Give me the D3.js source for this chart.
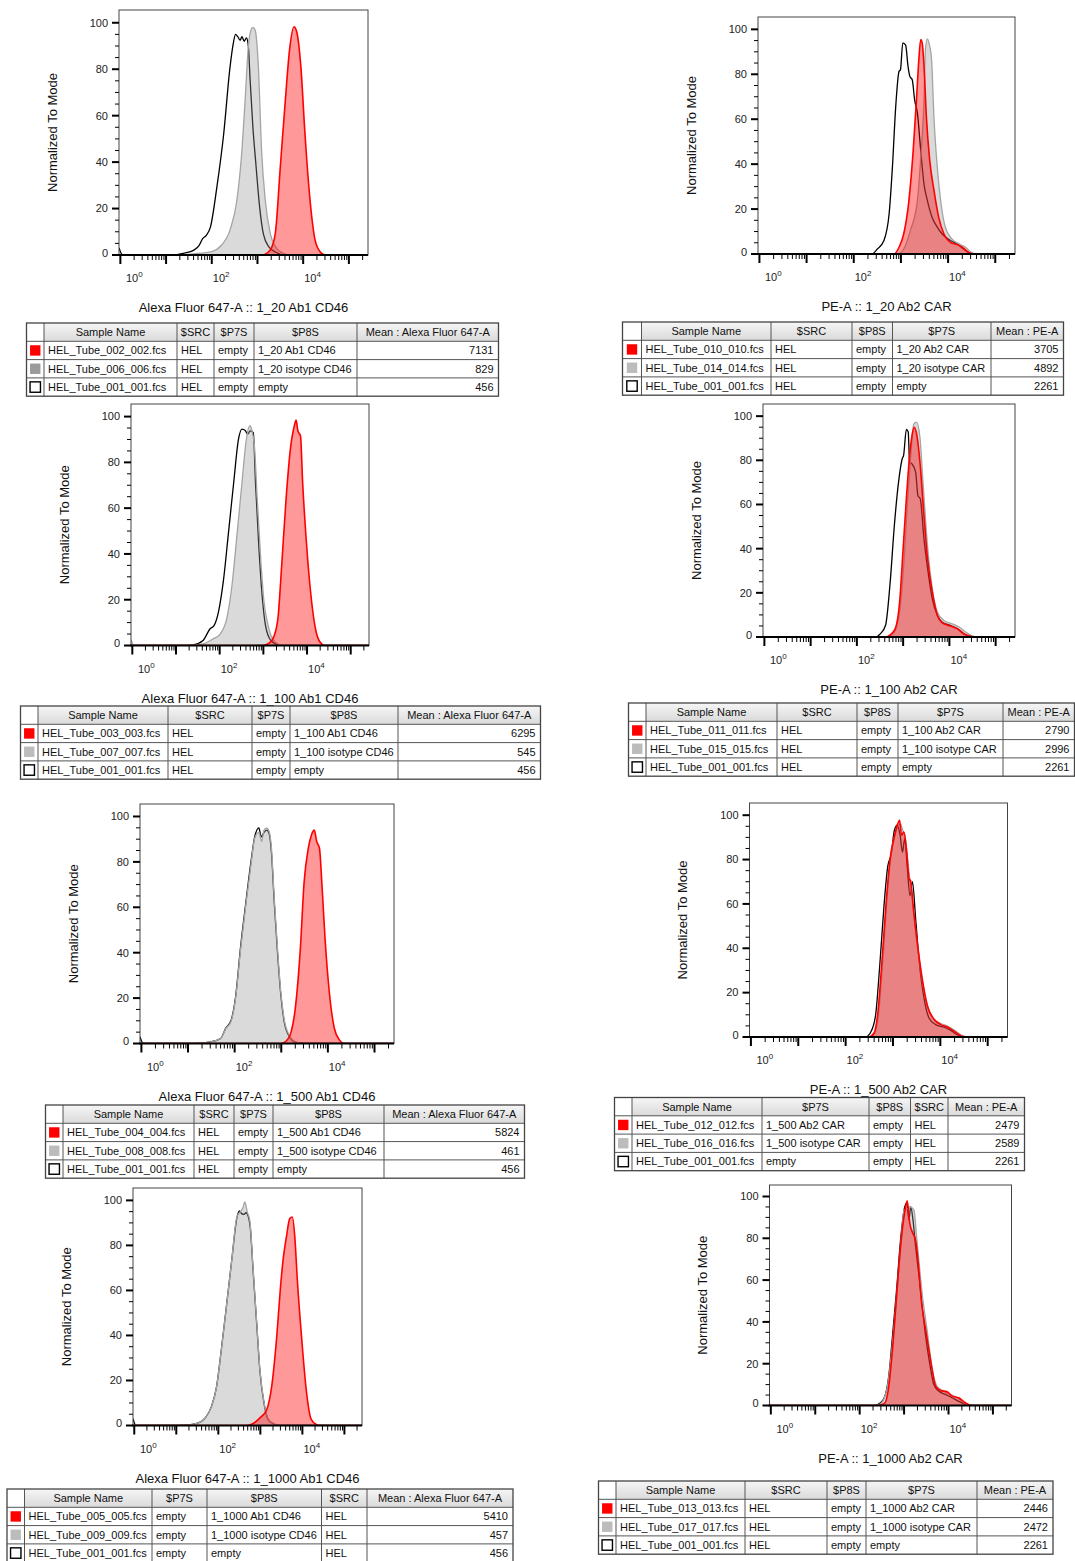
<!DOCTYPE html>
<meta charset="utf-8">
<style>
    body { margin: 0; background: #fff; }
    svg { display: block; font-family: "Liberation Sans", Arial, Helvetica, sans-serif; }
    .tickLabel { font-size: 11px; fill: #222; }
    .axisTitle { font-size: 13px; fill: #111; }
    .cell { font-size: 11px; fill: #111; }
</style>
<body>
<script src="https://cdn.jsdelivr.net/npm/d3@7"></script>
<script>
// histograms: [log10 intensity, % of mode]
var alexa20Red = [[-0.03,0],[3.1,0],[3.28,2.2],[3.39,9.3],[3.5,38],[3.61,66.7],[3.7,88],[3.8,98.3],[3.86,96],[3.95,81],[4.04,52],[4.15,23.7],[4.26,6.5],[4.37,1.4],[4.48,0],[5.42,0]];
var alexa20Grey = [[-0.03,0],[1.2,0],[1.6,0.5],[2.0,1.5],[2.2,4],[2.4,10.8],[2.55,23.7],[2.66,45],[2.73,66.7],[2.8,89.7],[2.86,97],[2.9,98],[2.95,96.8],[3.02,81],[3.09,45],[3.17,23.7],[3.28,9.3],[3.42,2.9],[3.57,0.7],[3.7,0],[5.42,0]];
var alexa20Black = [[-0.03,3],[0.05,0],[1.1,0],[1.4,0.8],[1.6,2],[1.72,4],[1.8,7],[1.88,8.5],[1.97,12],[2.11,29],[2.26,52],[2.4,81],[2.47,91],[2.52,95],[2.57,94],[2.62,92.5],[2.66,94],[2.71,92],[2.76,93.5],[2.8,90],[2.84,75],[2.9,55],[2.97,38],[3.04,22],[3.13,9],[3.25,3.5],[3.4,1.2],[3.6,0],[5.42,0]];

var pe20Red = [[-0.03,0],[2.85,0],[2.96,3],[3.06,9],[3.17,23.9],[3.26,46],[3.33,68.7],[3.38,86.6],[3.42,95.5],[3.45,94],[3.49,83.6],[3.54,61],[3.61,41.8],[3.7,28.4],[3.8,16.4],[3.91,9],[4.05,5.2],[4.19,4.2],[4.3,3],[4.44,0.7],[4.55,0],[5.42,0]];
var pe20Grey = [[-0.03,0],[2.92,0],[3.06,2.2],[3.2,10.4],[3.35,23.9],[3.43,46],[3.49,68.7],[3.52,91],[3.56,95.8],[3.61,92.5],[3.65,86.6],[3.7,61],[3.77,38.8],[3.85,22.4],[3.94,12],[4.08,6.7],[4.23,4.5],[4.37,3],[4.51,0.5],[4.6,0],[5.42,0]];
var pe20Black = [[-0.03,0],[2.38,0],[2.5,2.2],[2.64,6],[2.75,17.9],[2.82,38.8],[2.89,65.7],[2.96,81.3],[2.99,82],[3.04,94],[3.1,93],[3.15,83.6],[3.19,79],[3.24,77.6],[3.29,68.7],[3.35,62.7],[3.42,46],[3.49,31],[3.56,23.9],[3.66,16.4],[3.77,12],[3.87,9],[4.05,6],[4.19,4.5],[4.33,2.2],[4.47,0.3],[4.55,0],[5.42,0]];

var alexa100Red = [[-0.03,0],[2.98,0],[3.13,1],[3.25,4.4],[3.34,13],[3.42,35],[3.52,64],[3.62,86],[3.71,96],[3.75,98.5],[3.79,93.8],[3.85,91.6],[3.9,71],[3.98,46.5],[4.1,20],[4.21,5.8],[4.33,0.7],[4.4,0],[5.42,0]];
var alexa100Grey = [[-0.03,2.5],[0.04,0],[1.24,0],[1.62,0.7],[1.85,2.9],[2.01,5],[2.16,11.6],[2.28,26],[2.4,49],[2.51,71],[2.61,90],[2.69,96],[2.74,93.8],[2.8,86],[2.86,64],[2.94,37.8],[3.01,20],[3.11,8.7],[3.21,2.9],[3.36,0.4],[3.48,0],[5.42,0]];
var alexa100Black = [[-0.03,0],[1.16,0],[1.39,0.3],[1.62,2.2],[1.78,7.3],[1.87,8.7],[1.97,14.5],[2.09,29],[2.2,49],[2.32,71],[2.43,90],[2.51,94.5],[2.59,93.8],[2.64,92.3],[2.7,93.8],[2.77,93],[2.82,71],[2.9,42],[2.98,20],[3.05,8.7],[3.17,2.2],[3.32,0.3],[3.4,0],[5.42,0]];

var pe100Red = [[-0.03,0],[2.62,0],[2.72,1],[2.83,3.8],[2.93,17.3],[3.0,40],[3.07,62.6],[3.14,82.2],[3.19,91],[3.24,95],[3.3,91],[3.37,77.7],[3.45,55],[3.52,37],[3.63,20.4],[3.74,9.8],[3.84,6.5],[4.02,5],[4.17,3.8],[4.31,1.5],[4.46,0.3],[4.55,0],[5.42,0]];
var pe100Grey = [[-0.03,0],[2.65,0],[2.8,2],[2.94,14],[3.02,35],[3.09,60],[3.16,80.7],[3.23,96.5],[3.29,97.3],[3.36,91],[3.43,70],[3.52,43],[3.63,21.9],[3.74,11.3],[3.88,7.5],[4.06,6],[4.21,4.5],[4.35,2.3],[4.49,0.5],[4.57,0],[5.42,0]];
var pe100Black = [[-0.03,0],[2.4,0],[2.51,1.5],[2.62,5.3],[2.72,24.9],[2.81,50.5],[2.9,70],[2.98,80.7],[3.01,82.2],[3.07,94],[3.11,92.8],[3.14,79],[3.19,78.4],[3.27,74.7],[3.32,64],[3.37,62.6],[3.45,44.5],[3.52,32.4],[3.63,17.3],[3.74,9.8],[3.84,6.8],[4.02,5.3],[4.17,3.8],[4.31,1.5],[4.46,0.3],[4.53,0],[5.42,0]];

var alexa500Red = [[-0.03,0],[2.99,0],[3.1,1],[3.21,5],[3.31,17],[3.41,41.9],[3.49,71],[3.58,86],[3.65,92],[3.71,94],[3.76,89],[3.82,86],[3.87,71],[3.94,46],[4.03,22.8],[4.14,6.6],[4.25,1.5],[4.35,0],[5.42,0]];
var alexa500Grey = [[-0.03,0],[1.13,0],[1.48,0.7],[1.7,2.2],[1.81,6.6],[1.92,9.6],[2.02,19.9],[2.13,41.9],[2.24,61],[2.35,78.7],[2.43,90.4],[2.52,93],[2.58,89],[2.63,94],[2.69,94.9],[2.74,93.4],[2.79,86],[2.85,64],[2.92,41.9],[2.99,22.8],[3.06,11],[3.17,3.7],[3.31,0.7],[3.49,0],[5.42,0]];
var alexa500Black = [[-0.03,3],[0.04,0],[1.13,0],[1.48,0.7],[1.7,2.2],[1.81,6.8],[1.92,10],[2.02,20.5],[2.13,43],[2.24,62],[2.35,80],[2.43,91],[2.52,95],[2.57,91],[2.63,93],[2.69,94],[2.74,92.5],[2.79,84],[2.85,62],[2.92,40],[2.99,21.5],[3.06,10],[3.17,3.2],[3.31,0.5],[3.49,0],[5.42,0]];

var pe500Red = [[-0.03,0],[2.49,0],[2.6,1.8],[2.68,10.9],[2.77,35],[2.86,62],[2.95,82],[3.02,89.4],[3.09,95.5],[3.14,97.7],[3.18,91],[3.23,92.4],[3.29,83.4],[3.34,71.3],[3.37,70.5],[3.44,56],[3.53,39.6],[3.62,26],[3.73,13.9],[3.87,7.9],[4.01,5.6],[4.15,4.5],[4.29,2.6],[4.43,0.6],[4.54,0],[5.42,0]];
var pe500Grey = [[-0.03,0],[2.5,0],[2.61,1.5],[2.7,11],[2.79,36],[2.88,64],[2.97,84],[3.04,91],[3.1,95],[3.16,96],[3.21,93],[3.26,90],[3.31,80],[3.36,70],[3.42,60],[3.5,44],[3.6,28],[3.71,15],[3.85,8.5],[4.0,6.2],[4.14,5],[4.3,3],[4.45,0.8],[4.56,0],[5.42,0]];
var pe500Black = [[-0.03,0],[2.42,0],[2.52,1.8],[2.63,9.4],[2.72,32],[2.81,59],[2.89,77],[2.96,82],[3.03,93.2],[3.09,95.5],[3.15,91],[3.2,83.4],[3.25,89.4],[3.3,77],[3.36,63.7],[3.41,70],[3.48,53],[3.55,35],[3.66,17],[3.76,8.6],[3.9,5.6],[4.08,4.4],[4.22,3],[4.36,1],[4.5,0],[5.42,0]];

var alexa1000Red = [[-0.03,0],[2.67,0],[2.83,0.9],[2.99,3.4],[3.15,7],[3.27,17.4],[3.39,39.5],[3.48,61.7],[3.54,73.5],[3.62,83.8],[3.7,91.9],[3.76,92.6],[3.82,83.8],[3.88,64.6],[3.98,39.5],[4.1,14.5],[4.21,2.7],[4.34,0.3],[4.41,0],[5.42,0]];
var alexa1000Grey = [[-0.03,0],[0.85,0],[1.25,0.2],[1.49,0.9],[1.69,3.4],[1.84,8.6],[1.96,17.4],[2.08,35],[2.2,54],[2.32,73.5],[2.44,92.6],[2.52,94.8],[2.59,97],[2.63,99.3],[2.69,94.8],[2.75,91],[2.83,69],[2.91,47],[2.99,24.8],[3.09,10],[3.19,2.7],[3.31,0.9],[3.47,0],[5.42,0]];
var alexa1000Black = [[-0.03,3],[0.04,0],[0.85,0],[1.25,0.2],[1.49,0.9],[1.69,3.4],[1.84,8.6],[1.96,17.4],[2.08,35],[2.2,54],[2.32,73.5],[2.44,92],[2.5,95.3],[2.56,94],[2.61,93.8],[2.66,94.5],[2.71,93],[2.76,88],[2.83,68],[2.91,46],[2.99,24],[3.09,9.5],[3.19,2.5],[3.31,0.8],[3.47,0],[5.42,0]];

var pe1000Red = [[-0.03,0],[2.39,0],[2.55,0.8],[2.64,6.9],[2.73,24.6],[2.83,51.8],[2.92,75.9],[3.01,92],[3.07,98],[3.13,87],[3.2,82.3],[3.26,79],[3.32,68],[3.39,50],[3.49,35.8],[3.6,21.3],[3.71,9.3],[3.82,7.2],[3.97,6.6],[4.08,4.5],[4.23,3.7],[4.38,1.3],[4.53,0],[5.42,0]];
var pe1000Grey = [[-0.03,0],[2.35,0],[2.47,0.8],[2.62,8.5],[2.73,27.8],[2.85,56.7],[2.94,80.7],[3.0,93.6],[3.07,94],[3.13,95],[3.22,93.6],[3.29,79],[3.41,53],[3.52,35.8],[3.63,18],[3.74,9.3],[3.89,6.9],[4.05,5.3],[4.2,3.7],[4.35,1.3],[4.5,0],[5.42,0]];
var pe1000Black = [[-0.03,0],[2.32,0],[2.47,1.3],[2.58,5.3],[2.66,15],[2.73,31],[2.83,55],[2.92,79],[3.0,93.6],[3.06,96.8],[3.11,88.8],[3.15,95.2],[3.2,88.8],[3.26,76],[3.33,63],[3.41,47],[3.48,34],[3.58,19.7],[3.67,10],[3.78,6.9],[3.93,5.3],[4.08,3.7],[4.23,2],[4.38,0.5],[4.5,0],[5.42,0]];

// axis titles
var alexa20Title = "Alexa Fluor 647-A :: 1_20 Ab1 CD46";
var pe20Title = "PE-A :: 1_20 Ab2 CAR";
var alexa100Title = "Alexa Fluor 647-A :: 1_100 Ab1 CD46";
var pe100Title = "PE-A :: 1_100 Ab2 CAR";
var alexa500Title = "Alexa Fluor 647-A :: 1_500 Ab1 CD46";
var pe500Title = "PE-A :: 1_500 Ab2 CAR";
var alexa1000Title = "Alexa Fluor 647-A :: 1_1000 Ab1 CD46";
var pe1000Title = "PE-A :: 1_1000 Ab2 CAR";
var yTitle = "Normalized To Mode";
var xLabelExps = [0, 2, 4];
var yTickValues = [0, 20, 40, 60, 80, 100];

// legend tables
var swatchKinds = ["red", "grey", "none"];
var alexa20Cols = ["Sample Name", "$SRC", "$P7S", "$P8S", "Mean : Alexa Fluor 647-A"];
var alexa20Rows = [
    ["HEL_Tube_002_002.fcs", "HEL", "empty", "1_20 Ab1 CD46", "7131"],
    ["HEL_Tube_006_006.fcs", "HEL", "empty", "1_20 isotype CD46", "829"],
    ["HEL_Tube_001_001.fcs", "HEL", "empty", "empty", "456"]];
var pe20Cols = ["Sample Name", "$SRC", "$P8S", "$P7S", "Mean : PE-A"];
var pe20Rows = [
    ["HEL_Tube_010_010.fcs", "HEL", "empty", "1_20 Ab2 CAR", "3705"],
    ["HEL_Tube_014_014.fcs", "HEL", "empty", "1_20 isotype CAR", "4892"],
    ["HEL_Tube_001_001.fcs", "HEL", "empty", "empty", "2261"]];
var alexa100Cols = ["Sample Name", "$SRC", "$P7S", "$P8S", "Mean : Alexa Fluor 647-A"];
var alexa100Rows = [
    ["HEL_Tube_003_003.fcs", "HEL", "empty", "1_100 Ab1 CD46", "6295"],
    ["HEL_Tube_007_007.fcs", "HEL", "empty", "1_100 isotype CD46", "545"],
    ["HEL_Tube_001_001.fcs", "HEL", "empty", "empty", "456"]];
var pe100Cols = ["Sample Name", "$SRC", "$P8S", "$P7S", "Mean : PE-A"];
var pe100Rows = [
    ["HEL_Tube_011_011.fcs", "HEL", "empty", "1_100 Ab2 CAR", "2790"],
    ["HEL_Tube_015_015.fcs", "HEL", "empty", "1_100 isotype CAR", "2996"],
    ["HEL_Tube_001_001.fcs", "HEL", "empty", "empty", "2261"]];
var alexa500Cols = ["Sample Name", "$SRC", "$P7S", "$P8S", "Mean : Alexa Fluor 647-A"];
var alexa500Rows = [
    ["HEL_Tube_004_004.fcs", "HEL", "empty", "1_500 Ab1 CD46", "5824"],
    ["HEL_Tube_008_008.fcs", "HEL", "empty", "1_500 isotype CD46", "461"],
    ["HEL_Tube_001_001.fcs", "HEL", "empty", "empty", "456"]];
var pe500Cols = ["Sample Name", "$P7S", "$P8S", "$SRC", "Mean : PE-A"];
var pe500Rows = [
    ["HEL_Tube_012_012.fcs", "1_500 Ab2 CAR", "empty", "HEL", "2479"],
    ["HEL_Tube_016_016.fcs", "1_500 isotype CAR", "empty", "HEL", "2589"],
    ["HEL_Tube_001_001.fcs", "empty", "empty", "HEL", "2261"]];
var alexa1000Cols = ["Sample Name", "$P7S", "$P8S", "$SRC", "Mean : Alexa Fluor 647-A"];
var alexa1000Rows = [
    ["HEL_Tube_005_005.fcs", "empty", "1_1000 Ab1 CD46", "HEL", "5410"],
    ["HEL_Tube_009_009.fcs", "empty", "1_1000 isotype CD46", "HEL", "457"],
    ["HEL_Tube_001_001.fcs", "empty", "empty", "HEL", "456"]];
var pe1000Cols = ["Sample Name", "$SRC", "$P8S", "$P7S", "Mean : PE-A"];
var pe1000Rows = [
    ["HEL_Tube_013_013.fcs", "HEL", "empty", "1_1000 Ab2 CAR", "2446"],
    ["HEL_Tube_017_017.fcs", "HEL", "empty", "1_1000 isotype CAR", "2472"],
    ["HEL_Tube_001_001.fcs", "HEL", "empty", "empty", "2261"]];

// layout of each panel on the page
var panels = [
    {red: alexa20Red, grey: alexa20Grey, black: alexa20Black, title: alexa20Title, cols: alexa20Cols, rows: alexa20Rows,
     frame: {l: 119, r: 368, t: 10, b: 255}, tx: [26.5, 44, 177, 214, 254, 357, 498.5], ty: 323, greySwatch: "#9b9b9b"},
    {red: pe20Red, grey: pe20Grey, black: pe20Black, title: pe20Title, cols: pe20Cols, rows: pe20Rows,
     frame: {l: 758, r: 1015, t: 17, b: 254}, tx: [622.5, 641.5, 771, 852, 892.5, 991, 1063.5], ty: 322, greySwatch: "#bcbcbc"},
    {red: alexa100Red, grey: alexa100Grey, black: alexa100Black, title: alexa100Title, cols: alexa100Cols, rows: alexa100Rows,
     frame: {l: 131, r: 369, t: 404, b: 645.5}, tx: [20.5, 38, 168, 252, 290, 398, 540.5], ty: 706, greySwatch: "#bcbcbc"},
    {red: pe100Red, grey: pe100Grey, black: pe100Black, title: pe100Title, cols: pe100Cols, rows: pe100Rows,
     frame: {l: 763, r: 1015, t: 404, b: 637}, tx: [628.5, 646, 777, 857, 898, 1003, 1074.5], ty: 703, greySwatch: "#bcbcbc"},
    {red: alexa500Red, grey: alexa500Grey, black: alexa500Black, title: alexa500Title, cols: alexa500Cols, rows: alexa500Rows,
     frame: {l: 140, r: 394, t: 804, b: 1043.5}, tx: [45.5, 63, 194, 234, 273, 384, 524.5], ty: 1105, greySwatch: "#bcbcbc"},
    {red: pe500Red, grey: pe500Grey, black: pe500Black, title: pe500Title, cols: pe500Cols, rows: pe500Rows,
     frame: {l: 749.5, r: 1007.5, t: 803, b: 1037}, tx: [614.5, 632, 762, 869, 910.5, 948, 1024.5], ty: 1097.5, greySwatch: "#bcbcbc"},
    {red: alexa1000Red, grey: alexa1000Grey, black: alexa1000Black, title: alexa1000Title, cols: alexa1000Cols, rows: alexa1000Rows,
     frame: {l: 133, r: 362, t: 1188, b: 1425.5}, tx: [7, 24.5, 152, 207, 321.5, 367, 513], ty: 1489, greySwatch: "#bcbcbc"},
    {red: pe1000Red, grey: pe1000Grey, black: pe1000Black, title: pe1000Title, cols: pe1000Cols, rows: pe1000Rows,
     frame: {l: 769.5, r: 1011.5, t: 1185, b: 1405.5}, tx: [598.5, 616, 745, 827, 866, 977, 1053], ty: 1481, greySwatch: "#bcbcbc"}
];

var rowH = 18.3;

var svg = d3.select("body").append("svg")
    .attr("width", 1075)
    .attr("height", 1561);
var defs = svg.append("defs");
var grad = defs.append("linearGradient").attr("id", "hdr")
    .attr("x1", 0).attr("y1", 0).attr("x2", 0).attr("y2", 1);
grad.append("stop").attr("offset", "0%").attr("stop-color", "#f6f6f6");
grad.append("stop").attr("offset", "100%").attr("stop-color", "#dadada");

panels.forEach(function(p, i) {
    drawHistogram(p, i);
    drawTable(p);
});

function drawHistogram(p, i) {
    var f = p.frame;
    var x = d3.scaleLog().domain([Math.pow(10, -0.03), 262144]).range([f.l, f.r]);
    var y = d3.scaleLinear().domain([0, 105.5]).range([f.b, f.t]);
    var g = svg.append("g");

    defs.append("clipPath").attr("id", "clip" + i)
        .append("rect")
        .attr("x", f.l).attr("y", f.t - 1)
        .attr("width", f.r - f.l).attr("height", f.b - f.t + 1);

    var area = d3.area()
        .x(function(d) { return x(Math.pow(10, d[0])); })
        .y0(y(0))
        .y1(function(d) { return y(d[1]); })
        .curve(d3.curveMonotoneX);
    var line = area.lineY1();

    var plot = g.append("g").attr("clip-path", "url(#clip" + i + ")");
    plot.append("path").datum(p.black).attr("d", line)
        .attr("fill", "none").attr("stroke", "#000").attr("stroke-width", 1.3);
    plot.append("path").datum(p.grey).attr("d", area)
        .attr("fill", "rgba(150,150,150,0.35)");
    plot.append("path").datum(p.grey).attr("d", line)
        .attr("fill", "none").attr("stroke", "#a4a4a4").attr("stroke-width", 1.3);
    plot.append("path").datum(p.red).attr("d", area)
        .attr("fill", "rgba(255,0,0,0.4)");
    plot.append("path").datum(p.red).attr("d", line)
        .attr("fill", "none").attr("stroke", "#ff0000").attr("stroke-width", 1.6);

    // frame
    g.append("rect")
        .attr("x", f.l).attr("y", f.t)
        .attr("width", f.r - f.l).attr("height", f.b - f.t)
        .attr("fill", "none").attr("stroke", "#444").attr("stroke-width", 1);
    g.append("line")
        .attr("x1", f.l - 1).attr("x2", f.r).attr("y1", f.b).attr("y2", f.b)
        .attr("stroke", "#000").attr("stroke-width", 2);

    // x ticks, log decades
    x.ticks().forEach(function(v) {
        var lg = Math.log10(v);
        var major = Math.abs(lg - Math.round(lg)) < 1e-6;
        g.append("line")
            .attr("x1", x(v)).attr("x2", x(v))
            .attr("y1", f.b).attr("y2", f.b + (major ? 9 : 5))
            .attr("stroke", "#000").attr("stroke-width", major ? 2 : 1);
    });
    xLabelExps.forEach(function(k) {
        var px = Math.max(x(Math.pow(10, k)) + 1, f.l + 7);
        var t = g.append("text").attr("class", "tickLabel")
            .attr("x", px).attr("y", f.b + 27);
        t.append("tspan").text("10");
        t.append("tspan").attr("dy", -5).style("font-size", "8px").text(k);
    });

    // y ticks
    d3.range(0, 101, 5).forEach(function(v) {
        var major = v % 20 === 0;
        g.append("line")
            .attr("x1", f.l - (major ? 7 : 4)).attr("x2", f.l)
            .attr("y1", y(v)).attr("y2", y(v))
            .attr("stroke", "#000").attr("stroke-width", major ? 2 : 1);
    });
    g.selectAll(".ylab").data(yTickValues).enter().append("text")
        .attr("class", "tickLabel")
        .attr("x", f.l - 11)
        .attr("y", function(d) { return y(d) - (d === 0 ? 2 : 0); })
        .attr("dy", "0.35em")
        .attr("text-anchor", "end")
        .text(function(d) { return d; });

    g.append("text").attr("class", "axisTitle")
        .attr("transform", "translate(" + (f.l - 67) + "," + ((f.t + f.b) / 2) + ") rotate(-90)")
        .attr("dy", "0.35em")
        .attr("text-anchor", "middle")
        .text(yTitle);
    g.append("text").attr("class", "axisTitle")
        .attr("x", (f.l + f.r) / 2).attr("y", f.b + 57)
        .attr("text-anchor", "middle")
        .text(p.title);
}

function drawTable(p) {
    var xs = p.tx, top = p.ty;
    var g = svg.append("g");
    var nRows = p.rows.length + 1;
    var left = xs[0], right = xs[xs.length - 1];

    g.append("rect").attr("x", left).attr("y", top)
        .attr("width", right - left).attr("height", rowH * nRows)
        .attr("fill", "#fff");
    g.append("rect").attr("x", xs[1]).attr("y", top)
        .attr("width", right - xs[1]).attr("height", rowH)
        .attr("fill", "url(#hdr)");

    // header
    p.cols.forEach(function(c, j) {
        g.append("text").attr("class", "cell")
            .attr("x", (xs[j + 1] + xs[j + 2]) / 2)
            .attr("y", top + 13)
            .attr("text-anchor", "middle")
            .text(c);
    });

    // rows
    p.rows.forEach(function(r, i) {
        var ry = top + rowH * (i + 1);
        var kind = swatchKinds[i];
        var cx = (xs[0] + xs[1]) / 2;
        g.append("rect")
            .attr("x", cx - 5.2).attr("y", ry + rowH / 2 - 5.2)
            .attr("width", 10.4).attr("height", 10.4)
            .attr("fill", kind === "red" ? "#ff0000" : kind === "grey" ? p.greySwatch : "#fff")
            .attr("stroke", kind === "none" ? "#000" : "none")
            .attr("stroke-width", 1.4);
        r.forEach(function(v, j) {
            var last = j === r.length - 1;
            g.append("text").attr("class", "cell")
                .attr("x", last ? xs[j + 2] - 5 : xs[j + 1] + 4)
                .attr("y", ry + 13)
                .attr("text-anchor", last ? "end" : "start")
                .text(v);
        });
    });

    // grid lines
    d3.range(1, nRows).forEach(function(i) {
        g.append("line")
            .attr("x1", left).attr("x2", right)
            .attr("y1", top + rowH * i).attr("y2", top + rowH * i)
            .attr("stroke", "#555").attr("stroke-width", 1);
    });
    xs.slice(1, xs.length - 1).forEach(function(cx) {
        g.append("line")
            .attr("x1", cx).attr("x2", cx)
            .attr("y1", top).attr("y2", top + rowH * nRows)
            .attr("stroke", "#555").attr("stroke-width", 1);
    });
    g.append("rect").attr("x", left).attr("y", top)
        .attr("width", right - left).attr("height", rowH * nRows)
        .attr("fill", "none").attr("stroke", "#444").attr("stroke-width", 1.3);
}
</script>
</body>
